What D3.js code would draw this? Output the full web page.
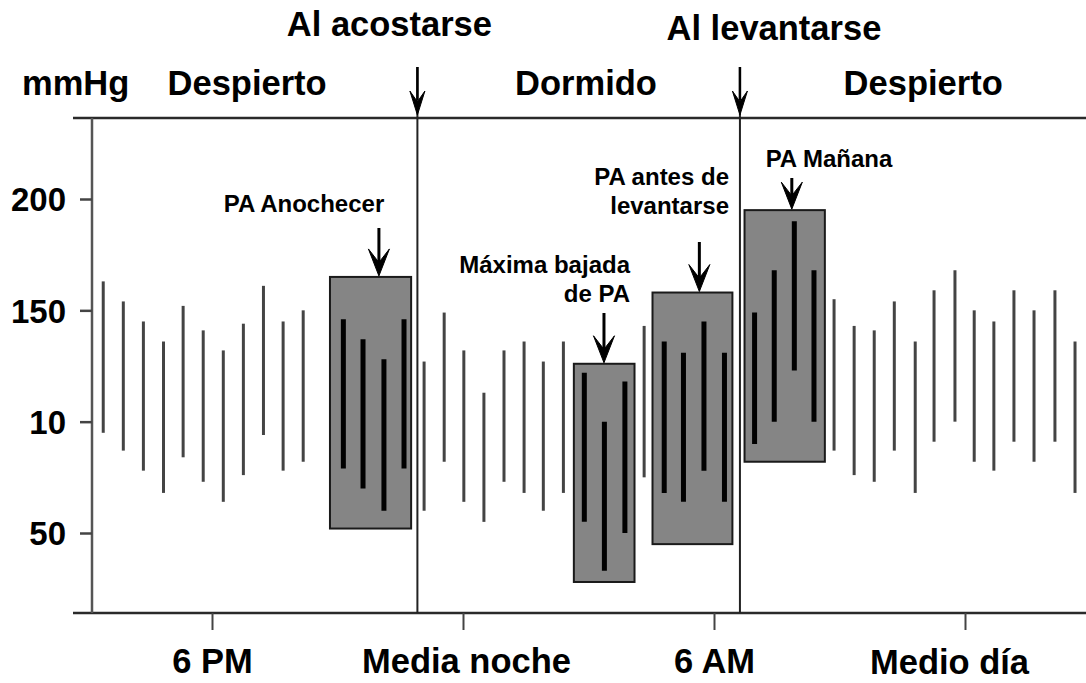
<!DOCTYPE html>
<html>
<head>
<meta charset="utf-8">
<script src="https://cdn.jsdelivr.net/npm/d3@7"></script>
<style>
  html, body { margin: 0; padding: 0; background: #fff; }
  svg { display: block; }
  text { font-family: "Liberation Sans", Arial, Helvetica, sans-serif; font-weight: bold; fill: #000; }
</style>
</head>
<body>
<svg id="chart" width="1086" height="683"></svg>
<script>
// ---------------- DATA ----------------
// Reading times in clock hours (24 = midnight, 30 = 6 AM, 36 = noon)
const readingHours = [15.40, 15.88, 16.36, 16.84, 17.31, 17.79, 18.27, 18.75, 19.23, 19.70, 20.18,
  21.14, 21.61, 22.11, 22.59,
  23.07, 23.55, 24.02, 24.50, 24.98, 25.46, 25.92, 26.40,
  26.90, 27.38, 27.87,
  28.33,
  28.81, 29.27, 29.76, 30.25,
  30.97, 31.44, 31.92, 32.39,
  32.87, 33.35, 33.83, 34.31, 34.81, 35.26, 35.76, 36.22, 36.69, 37.17, 37.65, 38.15, 38.63];
const systolic = [163, 154, 145, 136, 152, 141, 132, 144, 161, 145, 150,
  146, 137, 128, 146,
  127, 149, 132, 113, 132, 136, 127, 136,
  122, 100, 118,
  143,
  136, 131, 145, 131,
  149, 168, 190, 168,
  155, 143, 141, 154, 136, 159, 168, 150, 145, 159, 150, 159, 136];
const diastolic = [95, 87, 78, 68, 84, 73, 64, 76, 94, 78, 82,
  79, 70, 60, 79,
  60, 82, 64, 55, 73, 68, 60, 68,
  55, 33, 50,
  75,
  68, 64, 78, 64,
  90, 100, 123, 100,
  87, 76, 73, 87, 68, 91, 100, 82, 78, 91, 82, 91, 68];
// 1 = reading inside a highlighted window
const highlighted = [0,0,0,0,0,0,0,0,0,0,0,
  1,1,1,1,
  0,0,0,0,0,0,0,0,
  1,1,1,
  0,
  1,1,1,1,
  1,1,1,1,
  0,0,0,0,0,0,0,0,0,0,0,0,0];

// Highlighted windows (shaded boxes)
const boxStart = [20.82, 26.65, 28.53, 30.73];
const boxEnd   = [22.76, 28.10, 30.44, 32.65];
const boxHigh  = [165, 126, 158, 195];
const boxLow   = [52, 28, 45, 82];
const boxArrowHour = [21.99, 27.37, 29.65, 31.86];
const boxLabels = [["PA Anochecer"], ["Máxima bajada", "de PA"], ["PA antes de", "levantarse"], ["PA Mañana"]];

// Events
const eventHours  = [22.91, 30.62];
const eventLabels = ["Al acostarse", "Al levantarse"];

// Phases
const phaseLabels = ["Despierto", "Dormido", "Despierto"];
const phaseHours  = [18.84, 26.94, 35.0];

// Axes
const yTickValues = [50, 100, 150, 200];
const yTickLabels = ["50", "10", "150", "200"];
const xTickValues = [18, 24, 30, 36];
const xTickLabels = ["6 PM", "Media noche", "6 AM", "Medio día"];
const yUnit = "mmHg";

// ---------------- LAYOUT ----------------
const W = 1086, H = 683;
const plotLeft = 92, plotRight = W, plotTop = 118, plotBottom = 613;
const svg = d3.select("#chart");

const x = d3.scaleLinear().domain([18, 36]).range([212, 965]);
const y = d3.scaleLinear().domain([50, 200]).range([533, 199]);

const axisColor = "#2a2a2a";
const bigFont = "34.5px";

// Arrow head helper
function arrowHead(g, cx, tipY, w, h, notch) {
  g.append("path")
    .attr("d", `M${cx},${tipY} L${cx - w / 2},${tipY - h} L${cx},${tipY - h * notch} L${cx + w / 2},${tipY - h} Z`)
    .attr("fill", "#000")
    .attr("stroke", "#000")
    .attr("stroke-width", 1)
    .attr("stroke-linejoin", "round");
}

// ---- Boxes ----
const gBoxes = svg.append("g");
boxStart.forEach((s, i) => {
  gBoxes.append("rect")
    .attr("x", x(s))
    .attr("y", y(boxHigh[i]))
    .attr("width", x(boxEnd[i]) - x(s))
    .attr("height", y(boxLow[i]) - y(boxHigh[i]))
    .attr("fill", "#858585")
    .attr("stroke", "#1a1a1a")
    .attr("stroke-width", 2);
});

// ---- Readings ----
const readings = readingHours.map((h, i) => ({ h, sys: systolic[i], dia: diastolic[i], hi: highlighted[i] }));
svg.append("g").selectAll("line")
  .data(readings)
  .join("line")
  .attr("x1", d => x(d.h)).attr("x2", d => x(d.h))
  .attr("y1", d => y(d.sys)).attr("y2", d => y(d.dia))
  .attr("stroke", d => d.hi ? "#000" : "#444")
  .attr("stroke-width", d => d.hi ? 5 : 3);

// ---- Frame lines ----
svg.append("line").attr("x1", 73).attr("x2", plotRight).attr("y1", plotTop).attr("y2", plotTop)
  .attr("stroke", axisColor).attr("stroke-width", 2.5);
svg.append("line").attr("x1", 73).attr("x2", plotRight).attr("y1", plotBottom).attr("y2", plotBottom)
  .attr("stroke", axisColor).attr("stroke-width", 2.5);
svg.append("line").attr("x1", plotLeft).attr("x2", plotLeft).attr("y1", plotTop).attr("y2", plotBottom)
  .attr("stroke", "#555").attr("stroke-width", 2.5);

// ---- Y axis ----
const yAxis = d3.axisLeft(y)
  .tickValues(yTickValues)
  .tickFormat((d, i) => yTickLabels[i])
  .tickSize(12)
  .tickPadding(14);
const gy = svg.append("g").attr("transform", `translate(${plotLeft},0)`).call(yAxis);
gy.select(".domain").remove();
gy.selectAll(".tick line").attr("stroke", "#444").attr("stroke-width", 2.5);
gy.selectAll(".tick text").style("font-size", "33px").attr("dy", "0.36em");

// ---- X axis ----
const xAxis = d3.axisBottom(x)
  .tickValues(xTickValues)
  .tickFormat((d, i) => xTickLabels[i])
  .tickSize(17)
  .tickPadding(20);
const gx = svg.append("g").attr("transform", `translate(0,${plotBottom})`).call(xAxis);
gx.select(".domain").remove();
gx.selectAll(".tick line").attr("stroke", "#444").attr("stroke-width", 2);
const xLabelShift = [0, 3, 0, -16];
const xLabelDrop = [0, 0, 0, 1];
gx.selectAll(".tick text").style("font-size", bigFont)
  .attr("dx", (d, i) => xLabelShift[i])
  .attr("y", (d, i) => 36 + xLabelDrop[i]);

// ---- Event lines with arrows ----
const eventLabelShift = [-28, 34];
const eventLabelBase = [36, 40];
eventHours.forEach((h, i) => {
  const ex = x(h);
  svg.append("line").attr("x1", ex).attr("x2", ex).attr("y1", 67).attr("y2", plotBottom)
    .attr("stroke", "#222").attr("stroke-width", 2);
  svg.append("line").attr("x1", ex).attr("x2", ex).attr("y1", 67).attr("y2", 100)
    .attr("stroke", "#000").attr("stroke-width", 2.5);
  arrowHead(svg, ex, 115, 15, 24, 0.55);
  svg.append("text").attr("x", ex + eventLabelShift[i]).attr("y", eventLabelBase[i])
    .attr("text-anchor", "middle").style("font-size", bigFont).text(eventLabels[i]);
});

// ---- Phase labels ----
phaseLabels.forEach((t, i) => {
  svg.append("text").attr("x", x(phaseHours[i])).attr("y", 95)
    .attr("text-anchor", "middle").style("font-size", bigFont).text(t);
});
svg.append("text").attr("x", 22).attr("y", 95).style("font-size", bigFont).text(yUnit);

// ---- Box annotations ----
const annotAnchor = ["middle", "end", "end", "middle"];
const annotX = [304, 630, 729, 829];
const annotBase = [212, 273, 185, 167];
const arrowTop = [228, 313, 242, 178];
boxArrowHour.forEach((h, i) => {
  const ax = x(h);
  const tipY = y(boxHigh[i]) - 1;
  svg.append("line").attr("x1", ax).attr("x2", ax).attr("y1", arrowTop[i]).attr("y2", tipY - 6)
    .attr("stroke", "#000").attr("stroke-width", 3);
  arrowHead(svg, ax, tipY, 21, 27, 0.5);
  boxLabels[i].forEach((t, j) => {
    svg.append("text").attr("x", annotX[i]).attr("y", annotBase[i] + j * 29)
      .attr("text-anchor", annotAnchor[i]).style("font-size", "24px").text(t);
  });
});
</script>
</body>
</html>
